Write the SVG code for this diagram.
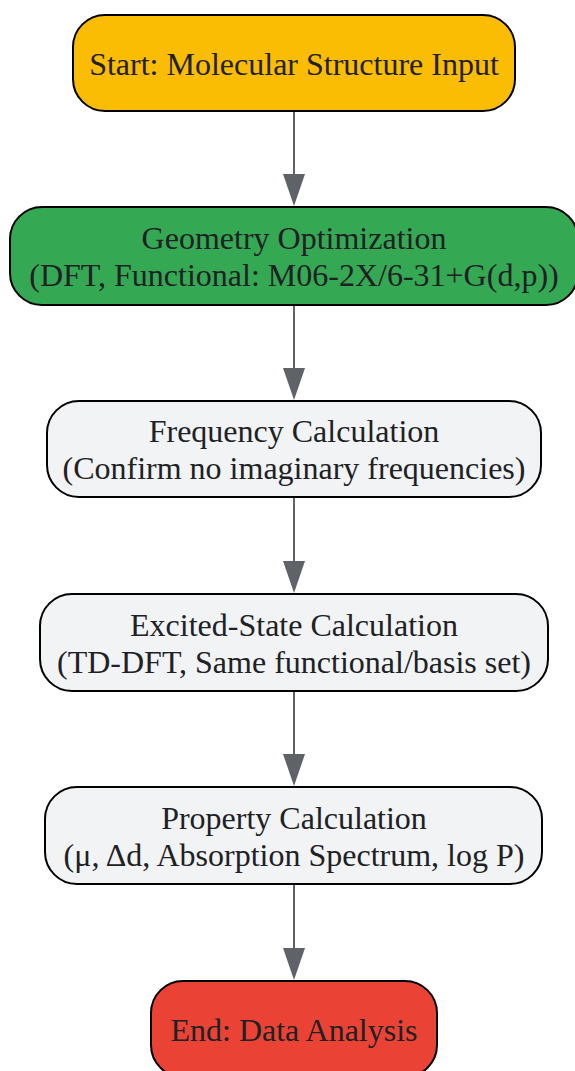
<svg xmlns="http://www.w3.org/2000/svg" width="575" height="1071" viewBox="0 0 575 1071">
<style>
.n{stroke:#000;stroke-width:2}
.t{font-family:"Liberation Serif",serif;font-size:32px;fill:#202124;text-anchor:middle;dominant-baseline:central}
.e{stroke:#5f6368;stroke-width:2;fill:none}
.h{fill:#5f6368}
</style>
<rect width="575" height="1071" fill="#fff"/>
<g id="edges">
<line class="e" x1="294" y1="111" x2="294" y2="176"/>
<polygon class="h" points="283,174 305,174 294,206"/>
<line class="e" x1="294" y1="305" x2="294" y2="370"/>
<polygon class="h" points="283,368 305,368 294,400"/>
<line class="e" x1="294" y1="497" x2="294" y2="563"/>
<polygon class="h" points="283,561 305,561 294,593"/>
<line class="e" x1="294" y1="691" x2="294" y2="756"/>
<polygon class="h" points="283,754 305,754 294,786"/>
<line class="e" x1="294" y1="884" x2="294" y2="950"/>
<polygon class="h" points="283,948 305,948 294,980"/>
</g>
<g id="start">
<rect class="n" x="73" y="15" width="442" height="96" rx="32" fill="#fbbc04"/>
<text class="t" x="294" y="64">Start: Molecular Structure Input</text>
</g>
<g id="geom">
<rect class="n" x="10" y="207" width="568" height="98" rx="32" fill="#34a853"/>
<text class="t" x="294" y="238">Geometry Optimization</text>
<text class="t" x="294" y="275">(DFT, Functional: M06-2X/6-31+G(d,p))</text>
</g>
<g id="freq">
<rect class="n" x="47" y="401" width="494" height="96" rx="32" fill="#f1f3f4"/>
<text class="t" x="294" y="431">Frequency Calculation</text>
<text class="t" x="294" y="468">(Confirm no imaginary frequencies)</text>
</g>
<g id="excited">
<rect class="n" x="40" y="594" width="508" height="97" rx="32" fill="#f1f3f4"/>
<text class="t" x="294" y="625">Excited-State Calculation</text>
<text class="t" x="294" y="662">(TD-DFT, Same functional/basis set)</text>
</g>
<g id="prop">
<rect class="n" x="45" y="787" width="497" height="97" rx="32" fill="#f1f3f4"/>
<text class="t" x="294" y="818">Property Calculation</text>
<text class="t" x="294" y="855">(μ, Δd, Absorption Spectrum, log P)</text>
</g>
<g id="end">
<rect class="n" x="151" y="981" width="286" height="96" rx="32" fill="#ea4335"/>
<text class="t" x="294" y="1030">End: Data Analysis</text>
</g>
</svg>
